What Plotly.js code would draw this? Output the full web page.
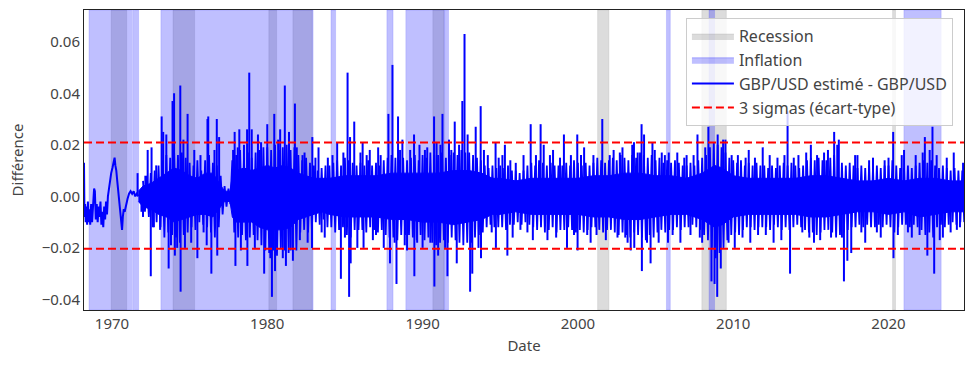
<!DOCTYPE html>
<html><head><meta charset="utf-8">
<script src="https://cdn.plot.ly/plotly-3.0.1.min.js"></script>
<style>html,body{margin:0;padding:0;background:#fff}#chart{width:974px;height:369px}</style>
</head><body><div id="chart"></div>
<script>
// ---- Axis ticks ----
const xTickVals = [1970, 1980, 1990, 2000, 2010, 2020];
const xTickText = ['1970', '1980', '1990', '2000', '2010', '2020'];
const yTickVals = [-0.04, -0.02, 0, 0.02, 0.04, 0.06];
const yTickText = ['\u22120.04', '\u22120.02', '0.00', '0.02', '0.04', '0.06'];

// ---- Recession / inflation periods (decimal years) ----
const recessionStart = [1969.95, 1973.93, 1980.10, 1981.65, 1990.66, 2001.27, 2007.98, 2020.26];
const recessionEnd   = [1970.95, 1975.32, 1980.60, 1982.90, 1991.38, 2002.00, 2009.56, 2020.45];
const inflationStart = [1968.52, 1971.33, 1971.45, 1973.15, 1984.10, 1987.70, 1988.92, 1991.42, 2005.70, 2008.44, 2020.99];
const inflationEnd   = [1971.27, 1971.40, 1971.72, 1982.95, 1984.40, 1988.10, 1991.40, 1991.67, 2005.95, 2008.80, 2023.39];

// ---- Early (low-noise) part of the series ----
const earlyYears  = [1968.20, 1968.23, 1968.27, 1968.31, 1968.35, 1968.40, 1968.45, 1968.50, 1968.55, 1968.60, 1968.66, 1968.72, 1968.78, 1968.85, 1968.90, 1968.96, 1969.02, 1969.08, 1969.14, 1969.20, 1969.26, 1969.32, 1969.38, 1969.44, 1969.50, 1969.56, 1969.62, 1969.68, 1969.74, 1969.80, 1969.88, 1969.95, 1970.03, 1970.10, 1970.17, 1970.22, 1970.28, 1970.34, 1970.40, 1970.47, 1970.54, 1970.60, 1970.65, 1970.70, 1970.76, 1970.82, 1970.90, 1971.00, 1971.10, 1971.20, 1971.30, 1971.40, 1971.50, 1971.60, 1971.70];
const earlyValues = [0.013, -0.008, -0.003, -0.010, -0.004, -0.011, -0.002, -0.010, -0.005, -0.011, -0.003, -0.010, -0.004, 0.003, 0.002, -0.009, -0.003, -0.010, -0.004, -0.008, -0.002, -0.011, -0.006, -0.012, -0.004, -0.009, -0.002, -0.007, 0.000, 0.003, 0.006, 0.009, 0.011, 0.014, 0.015, 0.012, 0.010, 0.006, 0.002, -0.003, -0.007, -0.011, -0.013, -0.008, -0.005, -0.006, -0.003, -0.001, 0.001, 0.002, 0.001, 0.002, 0.000, 0.001, 0.000];

// ---- Dense noisy part: solid core of the band ----
const coreYears = [1971.70, 1972.00, 1972.50, 1973.00, 1973.50, 1974.00, 1974.50, 1975.00, 1975.50, 1976.00, 1976.50, 1977.00, 1977.25, 1977.60, 1977.75, 1978.00, 1978.50, 1979.00, 1979.50, 1980.00, 1980.50, 1981.00, 1981.50, 1982.00, 1982.50, 1983.00, 1983.50, 1984.00, 1985.00, 1986.00, 1987.00, 1988.00, 1989.00, 1990.00, 1991.00, 1992.00, 1993.00, 1993.80, 1994.50, 1995.00, 1996.00, 1997.00, 1998.00, 1999.00, 2000.00, 2001.00, 2002.00, 2003.00, 2004.00, 2005.00, 2006.00, 2007.00, 2008.00, 2008.80, 2009.30, 2010.00, 2011.00, 2012.00, 2013.00, 2014.00, 2015.00, 2016.00, 2017.00, 2018.00, 2019.00, 2020.00, 2021.00, 2022.00, 2023.00, 2024.00, 2024.86];
const coreUpper = [0.002, 0.004, 0.005, 0.007, 0.009, 0.011, 0.010, 0.008, 0.007, 0.009, 0.009, 0.004, 0.002, 0.002, 0.008, 0.010, 0.011, 0.010, 0.011, 0.012, 0.011, 0.012, 0.011, 0.009, 0.008, 0.007, 0.007, 0.007, 0.008, 0.008, 0.008, 0.009, 0.009, 0.009, 0.009, 0.010, 0.010, 0.009, 0.007, 0.007, 0.006, 0.007, 0.007, 0.007, 0.007, 0.008, 0.008, 0.009, 0.009, 0.008, 0.008, 0.007, 0.009, 0.012, 0.011, 0.008, 0.007, 0.007, 0.007, 0.007, 0.008, 0.008, 0.007, 0.006, 0.006, 0.007, 0.006, 0.007, 0.007, 0.006, 0.006];
const coreLower = [-0.002, -0.004, -0.005, -0.007, -0.008, -0.010, -0.009, -0.008, -0.007, -0.007, -0.008, -0.004, -0.002, -0.002, -0.008, -0.010, -0.010, -0.010, -0.012, -0.013, -0.013, -0.013, -0.012, -0.009, -0.008, -0.007, -0.006, -0.007, -0.008, -0.008, -0.008, -0.009, -0.009, -0.010, -0.010, -0.011, -0.010, -0.009, -0.007, -0.007, -0.006, -0.007, -0.007, -0.007, -0.007, -0.008, -0.008, -0.009, -0.009, -0.008, -0.007, -0.007, -0.009, -0.012, -0.011, -0.008, -0.007, -0.007, -0.007, -0.007, -0.008, -0.008, -0.007, -0.006, -0.006, -0.007, -0.006, -0.008, -0.007, -0.006, -0.006];

// ---- Quarterly envelope of the noise (4 values per year, 1972-2024) ----
const envFirstYear = 1972;
const envUpper = [
 0.006,0.008,0.009,0.010,  0.012,0.014,0.016,0.015,  0.018,0.016,0.017,0.015,  0.013,0.012,0.014,0.010,
 0.014,0.016,0.013,0.012,  0.008,0.004,0.003,0.014,  0.016,0.018,0.015,0.017,  0.015,0.017,0.018,0.019,
 0.019,0.018,0.020,0.018,  0.019,0.020,0.018,0.019,  0.016,0.014,0.015,0.013,  0.012,0.010,0.011,0.012,
 0.012,0.013,0.014,0.012,  0.015,0.014,0.013,0.012,  0.013,0.012,0.014,0.012,  0.013,0.012,0.014,0.015,
 0.016,0.015,0.014,0.015,  0.014,0.015,0.016,0.014,  0.016,0.015,0.017,0.016,  0.016,0.017,0.015,0.016,
 0.017,0.016,0.018,0.017,  0.017,0.016,0.015,0.014,  0.012,0.011,0.012,0.011,  0.012,0.011,0.012,0.010,
 0.010,0.009,0.010,0.012,  0.013,0.012,0.014,0.013,  0.012,0.013,0.012,0.012,  0.012,0.013,0.012,0.014,
 0.013,0.012,0.013,0.012,  0.013,0.015,0.014,0.013,  0.014,0.015,0.014,0.016,  0.015,0.014,0.016,0.015,
 0.017,0.016,0.015,0.016,  0.014,0.015,0.013,0.014,  0.013,0.014,0.013,0.012,  0.012,0.013,0.012,0.014,
 0.015,0.016,0.019,0.021,  0.020,0.019,0.017,0.015,  0.014,0.013,0.014,0.012,  0.013,0.012,0.013,0.012,
 0.012,0.011,0.012,0.011,  0.012,0.013,0.012,0.013,  0.012,0.011,0.012,0.014,  0.015,0.014,0.015,0.014,
 0.014,0.015,0.016,0.014,  0.013,0.012,0.013,0.012,  0.011,0.012,0.011,0.012,  0.011,0.012,0.011,0.012,
 0.012,0.014,0.012,0.011,  0.011,0.012,0.011,0.012,  0.013,0.014,0.013,0.014,  0.012,0.011,0.012,0.011,
 0.010,0.011,0.010,0.010
];
const envLower = [
 -0.006,-0.008,-0.012,-0.010,  -0.012,-0.016,-0.014,-0.015,  -0.016,-0.018,-0.015,-0.014,  -0.012,-0.013,-0.010,-0.011,
 -0.012,-0.014,-0.016,-0.012,  -0.007,-0.004,-0.003,-0.014,  -0.016,-0.015,-0.017,-0.016,  -0.015,-0.017,-0.019,-0.021,
 -0.022,-0.021,-0.023,-0.020,  -0.021,-0.022,-0.020,-0.021,  -0.014,-0.013,-0.014,-0.013,  -0.010,-0.011,-0.009,-0.012,
 -0.012,-0.014,-0.013,-0.012,  -0.015,-0.016,-0.013,-0.013,  -0.013,-0.014,-0.012,-0.013,  -0.014,-0.013,-0.015,-0.016,
 -0.016,-0.017,-0.015,-0.015,  -0.015,-0.016,-0.017,-0.015,  -0.017,-0.016,-0.018,-0.019,  -0.018,-0.017,-0.018,-0.016,
 -0.017,-0.018,-0.019,-0.018,  -0.018,-0.016,-0.015,-0.014,  -0.012,-0.011,-0.012,-0.012,  -0.012,-0.013,-0.011,-0.011,
 -0.010,-0.011,-0.010,-0.011,  -0.012,-0.013,-0.012,-0.014,  -0.013,-0.012,-0.014,-0.013,  -0.013,-0.012,-0.013,-0.014,
 -0.013,-0.014,-0.013,-0.012,  -0.012,-0.013,-0.014,-0.013,  -0.013,-0.014,-0.015,-0.014,  -0.015,-0.016,-0.014,-0.015,
 -0.016,-0.017,-0.015,-0.016,  -0.014,-0.013,-0.014,-0.013,  -0.013,-0.012,-0.013,-0.012,  -0.012,-0.011,-0.012,-0.013,
 -0.015,-0.017,-0.020,-0.024,  -0.022,-0.020,-0.017,-0.015,  -0.014,-0.015,-0.013,-0.012,  -0.012,-0.013,-0.012,-0.012,
 -0.012,-0.013,-0.011,-0.012,  -0.013,-0.012,-0.013,-0.012,  -0.011,-0.012,-0.013,-0.014,  -0.014,-0.015,-0.014,-0.013,
 -0.013,-0.014,-0.016,-0.015,  -0.014,-0.013,-0.012,-0.012,  -0.011,-0.012,-0.011,-0.012,  -0.012,-0.011,-0.012,-0.011,
 -0.012,-0.014,-0.012,-0.011,  -0.011,-0.012,-0.011,-0.012,  -0.013,-0.015,-0.014,-0.016,  -0.012,-0.011,-0.012,-0.011,
 -0.010,-0.011,-0.010,-0.010
];

// ---- Individual spikes (year, value) ----
const spikeYears = [
 1971.65, 1971.90, 1972.00, 1972.15, 1972.30, 1972.50, 1972.55, 1972.70, 1972.85,
 1973.10, 1973.20, 1973.30, 1973.50, 1973.65, 1973.80, 1973.90, 1974.00, 1974.05, 1974.20, 1974.40, 1974.42, 1974.60, 1974.70, 1974.87,
 1975.10, 1975.30, 1975.50, 1975.70, 1975.90, 1976.10, 1976.15, 1976.20, 1976.40, 1976.60, 1976.75, 1976.78, 1976.90,
 1977.80, 1977.90, 1977.95, 1978.10, 1978.20, 1978.30, 1978.50, 1978.70, 1978.72, 1978.84, 1979.00, 1979.20, 1979.40, 1979.60, 1979.80,
 1980.00, 1980.20, 1980.30, 1980.45, 1980.50, 1980.70, 1980.83, 1981.00, 1981.13, 1981.20, 1981.40, 1981.50, 1981.65, 1981.78, 1981.90,
 1982.10, 1982.27, 1982.40, 1982.60, 1982.88, 1982.90, 1983.10, 1983.30, 1983.50, 1983.70, 1983.90,
 1984.20, 1984.50, 1984.74, 1984.90, 1985.00, 1985.17, 1985.27, 1985.33, 1985.37, 1985.60, 1985.80, 1986.00, 1986.14, 1986.20, 1986.40, 1986.60, 1986.80,
 1987.00, 1987.14, 1987.30, 1987.50, 1987.80, 1987.90, 1988.06, 1988.20, 1988.32, 1988.42, 1988.55, 1988.70, 1988.85,
 1989.00, 1989.20, 1989.45, 1989.47, 1989.65, 1989.80, 1990.00, 1990.15, 1990.30, 1990.50, 1990.74, 1990.76, 1990.90, 1991.00, 1991.15, 1991.28, 1991.45, 1991.60, 1991.70, 1991.85,
 1992.07, 1992.20, 1992.35, 1992.56, 1992.70, 1992.90, 1993.06, 1993.20, 1993.42, 1993.60, 1993.74, 1993.76, 1993.95,
 1994.20, 1994.45, 1994.70, 1994.72, 1994.90, 1995.14, 1995.30, 1995.46, 1995.65, 1995.80, 1996.00, 1996.30, 1996.50, 1996.75, 1996.96,
 1997.10, 1997.30, 1997.60, 1997.80, 1998.04, 1998.20, 1998.40, 1998.60, 1998.85, 1999.10, 1999.30, 1999.55, 1999.75, 1999.96, 1999.98,
 2000.20, 2000.40, 2000.60, 2000.82, 2001.00, 2001.20, 2001.57, 2001.80, 2002.05, 2002.30, 2002.55, 2002.70, 2002.87,
 2003.05, 2003.20, 2003.40, 2003.50, 2003.61, 2003.63, 2003.85, 2004.10, 2004.12, 2004.26, 2004.45, 2004.68, 2004.80, 2004.95,
 2005.20, 2005.40, 2005.60, 2005.80, 2005.85, 2006.10, 2006.40, 2006.60, 2006.85, 2007.00, 2007.25, 2007.45, 2007.70, 2007.85,
 2008.00, 2008.20, 2008.40, 2008.60, 2008.80, 2008.97, 2009.00, 2009.20, 2009.35, 2009.50, 2009.70, 2009.90,
 2010.10, 2010.30, 2010.60, 2010.80, 2011.00, 2011.10, 2011.40, 2011.60, 2011.90, 2012.10, 2012.35, 2012.60, 2012.85,
 2013.10, 2013.30, 2013.50, 2013.66, 2013.90, 2014.20, 2014.45, 2014.70, 2014.90, 2015.00, 2015.20, 2015.40, 2015.60, 2015.85,
 2016.10, 2016.30, 2016.50, 2016.70, 2016.80, 2017.00, 2017.13, 2017.35, 2017.60, 2017.85, 2018.00, 2018.25, 2018.50, 2018.75,
 2019.00, 2019.25, 2019.50, 2019.75, 2020.00, 2020.30, 2020.32, 2020.60, 2020.85, 2021.00, 2021.25, 2021.50, 2021.75, 2022.00,
 2022.20, 2022.34, 2022.50, 2022.65, 2022.83, 2022.94, 2023.10, 2023.30, 2023.50, 2023.75, 2024.00, 2024.20, 2024.40, 2024.60, 2024.80
];
const spikeValues = [
 0.009, -0.006, -0.008, 0.008, 0.018, -0.031, 0.019, -0.012, 0.012,
 -0.013, 0.031, 0.025, 0.024, -0.028, -0.019, 0.037, 0.040, -0.023, -0.020, 0.043, -0.037, 0.022, -0.020, 0.032,
 -0.018, 0.018, -0.024, 0.016, -0.014, -0.019, 0.030, 0.031, -0.030, 0.018, 0.030, -0.023, 0.023,
 0.018, 0.025, -0.027, 0.019, 0.026, -0.021, 0.020, 0.026, -0.027, 0.048, 0.026, -0.020, 0.024, 0.021, -0.030,
 0.028, -0.024, -0.039, 0.032, -0.029, 0.022, 0.026, -0.024, 0.043, -0.027, 0.025, -0.021, -0.025, 0.036, 0.019,
 -0.017, 0.016, 0.017, -0.018, -0.020, 0.023, 0.015, 0.019, -0.014, -0.016, 0.015,
 0.016, 0.021, -0.032, 0.017, -0.016, 0.048, -0.039, 0.023, -0.026, 0.029, -0.020, 0.017, 0.021, -0.020, 0.016, 0.018, -0.017,
 -0.015, 0.019, 0.016, -0.020, 0.032, -0.026, 0.051, -0.018, -0.034, 0.031, 0.018, 0.022, -0.019,
 -0.021, 0.018, 0.024, -0.031, -0.018, 0.020, -0.020, 0.018, 0.019, -0.018, 0.031, -0.035, 0.021, -0.023, 0.020, 0.032, -0.020, -0.031, 0.022, 0.018,
 0.029, -0.026, 0.020, 0.037, 0.063, 0.024, -0.037, -0.030, 0.027, -0.020, 0.035, -0.024, 0.018,
 0.016, -0.014, 0.021, -0.020, 0.015, 0.016, 0.020, -0.023, 0.014, -0.016, 0.013, -0.013, 0.016, -0.014, 0.028,
 -0.017, 0.016, 0.028, 0.020, -0.017, 0.016, 0.018, -0.016, 0.015, 0.024, -0.020, 0.016, -0.015, 0.024, -0.021,
 0.016, 0.019, -0.015, -0.018, 0.016, -0.015, 0.030, -0.017, 0.016, 0.018, -0.016, 0.017, 0.019,
 -0.016, -0.018, -0.021, 0.020, 0.021, -0.020, 0.017, 0.028, -0.029, 0.024, -0.018, -0.026, 0.021, 0.018,
 -0.018, 0.017, 0.016, -0.018, 0.017, -0.015, 0.017, -0.018, 0.015, 0.016, -0.015, 0.016, 0.024, -0.016,
 -0.018, 0.019, 0.027, -0.033, -0.034, -0.039, 0.024, -0.028, 0.022, 0.022, -0.018, 0.016,
 -0.020, 0.016, -0.016, 0.015, 0.018, -0.018, 0.015, -0.015, 0.019, -0.015, 0.016, -0.018, 0.015,
 -0.017, 0.016, 0.033, -0.030, 0.015, 0.016, -0.014, 0.017, -0.016, 0.020, -0.018, 0.016, -0.017, 0.017,
 0.018, -0.016, 0.025, 0.020, 0.022, -0.016, -0.033, -0.025, -0.022, 0.016, 0.016, -0.014, -0.018, 0.014,
 0.015, -0.014, -0.016, 0.014, 0.015, 0.025, -0.024, -0.015, 0.016, 0.018, -0.014, -0.016, 0.016, -0.015,
 0.017, 0.023, -0.023, 0.018, 0.027, -0.030, 0.016, -0.017, -0.016, 0.015, -0.014, 0.017, -0.013, -0.012, 0.013
];

const sigmaUpper = 0.0209;
const sigmaLower = -0.0203;
const xStart = 1968.2, xEnd = 2024.86;
const yMin = -0.0441, yMax = 0.0723;

// ---- Colours ----
const lineBlue = '#0000ff';
const infFill = 'rgba(0,0,255,0.25)';
const recFill = 'rgba(128,128,128,0.28)';
const textCol = '#444444';

// ---- Shapes (shaded spans) ----
const shapes = [];
recessionStart.forEach((s, i) => shapes.push({type: 'rect', xref: 'x', yref: 'paper', x0: s, x1: recessionEnd[i], y0: 0, y1: 1, fillcolor: recFill, line: {width: 1, color: 'rgba(128,128,128,0.15)'}, layer: 'below'}));
inflationStart.forEach((s, i) => shapes.push({type: 'rect', xref: 'x', yref: 'paper', x0: s, x1: inflationEnd[i], y0: 0, y1: 1, fillcolor: infFill, line: {width: 1, color: 'rgba(0,0,255,0.12)'}, layer: 'below'}));

// ---- Zigzag through the quarterly envelope (dates indexed by quarter) ----
const zzX = [], zzY = [];
envUpper.forEach((u, i) => {
  const t = envFirstYear + i * 0.25;
  zzX.push(t, t + 0.125);
  zzY.push(u, envLower[i]);
});

// ---- Spike trace ----
const spX = [], spY = [];
spikeYears.forEach((t, i) => { spX.push(t, t, null); spY.push(0, spikeValues[i], null); });

const traces = [
  {x: [null], y: [null], type: 'scatter', mode: 'lines', fill: 'toself', fillcolor: 'rgba(128,128,128,0.28)', line: {color: 'rgba(128,128,128,0.2)', width: 1}, name: 'Recession', showlegend: true, hoverinfo: 'skip'},
  {x: [null], y: [null], type: 'scatter', mode: 'lines', fill: 'toself', fillcolor: 'rgba(0,0,255,0.25)', line: {color: 'rgba(0,0,255,0.25)', width: 1}, name: 'Inflation', showlegend: true, hoverinfo: 'skip'},
  {x: coreYears, y: coreUpper, type: 'scatter', mode: 'lines', line: {color: lineBlue, width: 1}, showlegend: false, hoverinfo: 'skip'},
  {x: coreYears, y: coreLower, type: 'scatter', mode: 'lines', fill: 'tonexty', fillcolor: lineBlue, line: {color: lineBlue, width: 1}, showlegend: false, hoverinfo: 'skip'},
  {x: zzX, y: zzY, type: 'scatter', mode: 'lines', line: {color: lineBlue, width: 1.8}, showlegend: false, hoverinfo: 'skip'},
  {x: spX, y: spY, type: 'scatter', mode: 'lines', line: {color: lineBlue, width: 2}, showlegend: false, hoverinfo: 'skip', connectgaps: false},
  {x: earlyYears, y: earlyValues, type: 'scatter', mode: 'lines', line: {color: lineBlue, width: 2}, name: 'GBP/USD estimé - GBP/USD', showlegend: true, hoverinfo: 'skip'},
  {x: [xStart, xEnd, null, xStart, xEnd], y: [sigmaUpper, sigmaUpper, null, sigmaLower, sigmaLower], type: 'scatter', mode: 'lines', line: {color: '#ff0000', width: 2, dash: '8px,4px'}, name: '3 sigmas (écart-type)', showlegend: true, hoverinfo: 'skip', connectgaps: false}
];

const layout = {
  width: 974, height: 369,
  margin: {l: 84, r: 10, t: 10, b: 59},
  paper_bgcolor: '#ffffff', plot_bgcolor: '#ffffff',
  font: {family: '"Noto Sans", "DejaVu Sans", sans-serif', size: 15, color: textCol},
  showlegend: true,
  legend: {x: 0.684, y: 0.973, xanchor: 'left', yanchor: 'top', itemwidth: 42, bgcolor: 'rgba(255,255,255,0.8)', bordercolor: '#cccccc', borderwidth: 1, font: {size: 16, color: textCol}, traceorder: 'normal'},
  xaxis: {range: [xStart, xEnd], tickmode: 'array', tickvals: xTickVals, ticktext: xTickText, showgrid: false, zeroline: false, showline: true, mirror: true, linecolor: '#222222', linewidth: 1, ticks: '', title: {text: 'Date', font: {size: 15, color: textCol}, standoff: 8}},
  yaxis: {range: [yMin, yMax], tickmode: 'array', tickvals: yTickVals, ticktext: yTickText, showgrid: false, zeroline: false, showline: true, mirror: true, linecolor: '#222222', linewidth: 1, ticks: '', title: {text: 'Différence', font: {size: 15, color: textCol}, standoff: 14}},
  shapes: shapes
};

Plotly.newPlot('chart', traces, layout, {displayModeBar: false, staticPlot: true});
</script>
</body></html>
